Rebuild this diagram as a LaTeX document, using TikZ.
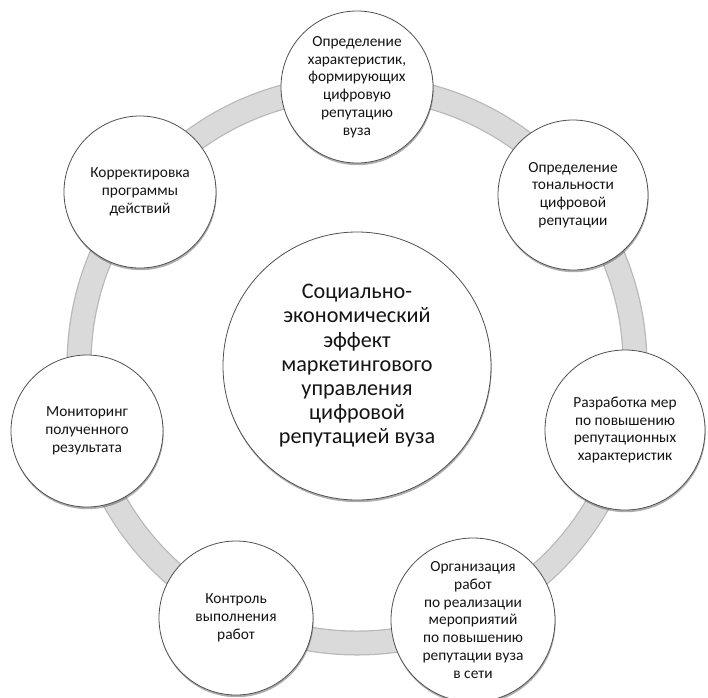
\documentclass[tikz,border=0pt]{standalone}
\usepackage{fontspec}
\setmainfont{Carlito}
\usetikzlibrary{shadows}
\definecolor{ringedge}{HTML}{B8B8B8}
\definecolor{ringfill}{HTML}{DADADA}
\definecolor{circedge}{HTML}{505050}
\definecolor{txt}{HTML}{141414}
\tikzset{
  ringnode/.style={circle, draw=circedge, line width=0.8pt, fill=white, inner sep=0pt,
    align=center, text=txt, font=\fontsize{15.4}{17.8}\selectfont,
    drop shadow={shadow xshift=0.6pt, shadow yshift=-2.2pt, opacity=0.45, fill=black!70}},
  hubnode/.style={ringnode, font=\fontsize{22.2}{24.2}\selectfont, minimum size=268pt}
}
\begin{document}
\begin{tikzpicture}[x=1pt,y=-1pt]
\useasboundingbox (0,0) rectangle (708,697);
\fill[white] (0,0) rectangle (708,697);
% ring
\coordinate (rc) at (357,365);
\draw[ringedge, line width=25pt] (rc) circle (278);
\draw[ringfill, line width=22.5pt] (rc) circle (278);
% central hub
\node[hubnode] (hub) at (357,366) {Социально-\\экономический\\эффект\\маркетингового\\управления\\цифровой\\репутацией вуза};
% satellites
\node[ringnode, minimum size=152pt] (n1) at (357,87) {Определение\\характеристик,\\формирующих\\цифровую\\репутацию\\вуза};
\node[ringnode, minimum size=150pt] (n2) at (573,195) {Определение\\тональности\\цифровой\\репутации};
\node[ringnode, minimum size=160pt] (n3) at (625,430) {Разработка мер\\по повышению\\репутационных\\характеристик};
\node[ringnode, minimum size=164pt] (n4) at (473,620) {Организация\\работ\\по реализации\\мероприятий\\по повышению\\репутации вуза\\в сети};
\node[ringnode, minimum size=154pt] (n5) at (236,618) {Контроль\\выполнения\\работ};
\node[ringnode, minimum size=152pt] (n6) at (87,431) {Мониторинг\\полученного\\результата};
\node[ringnode, minimum size=152pt] (n7) at (140,192) {Корректировка\\программы\\действий};
\end{tikzpicture}
\end{document}
